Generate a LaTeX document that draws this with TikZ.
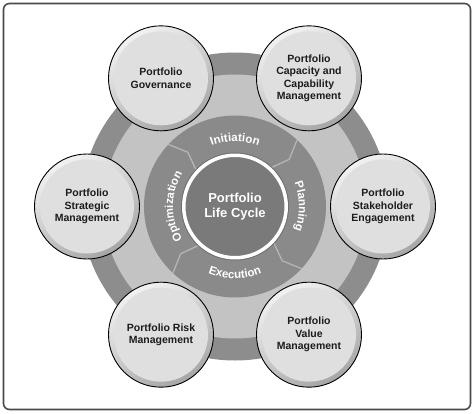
\documentclass[tikz,border=0pt]{standalone}
\usepackage{fontspec}
\setmainfont{Liberation Sans}
\usepackage{xcolor}
\usetikzlibrary{decorations.text}

\definecolor{framegray}{HTML}{4A4A4A}
\definecolor{bandgray}{HTML}{8D8D8D}
\definecolor{lightband}{HTML}{C3C3C3}
\definecolor{ringgray}{HTML}{8A8A8A}
\definecolor{divgray}{HTML}{B5B5B5}
\definecolor{coregray}{HTML}{7A7A7A}
\definecolor{rimlight}{HTML}{F2F2F2}
\definecolor{rimdark}{HTML}{A6A6A6}
\definecolor{faceflat}{HTML}{DFDFDF}
\definecolor{textgray}{HTML}{1C1C1C}

\newcommand\phasefont{\fontsize{11.5}{13}\selectfont\bfseries}

\begin{document}
\begin{tikzpicture}[
  x=1pt, y=1pt,
  area/.style={circle, draw=black, line width=0.9pt, minimum size=105pt,
               inner sep=0pt, align=center, text=textgray,
               font=\fontsize{10.5}{12.5}\selectfont\bfseries,
               top color=rimlight, bottom color=rimdark, shading angle=30,
               path picture={\fill[faceflat] (path picture bounding box.center) circle (47pt);}},
  core/.style={circle, fill=coregray, draw=white, line width=3.5pt,
               minimum size=102.5pt, inner sep=0pt, outer sep=0pt, align=center,
               text=white, font=\fontsize{13}{15}\selectfont\bfseries},
  phase/.style={decorate, decoration={text along path, text align=center,
               text color=white}},
  divider/.style={draw=divgray, line width=1.3pt, line join=round}
]
  \useasboundingbox (-235,-206.5) rectangle (239,206.5);
  \draw[framegray, line width=1.6pt, rounded corners=6pt]
    (-231.5,-203) rectangle (235.5,203);

  % rings
  \fill[bandgray]  (0,0) circle (154);
  \fill[lightband] (0,0) circle (132);
  \fill[ringgray]  (0,0) circle (91);
  \foreach \a in {45,135,225,315}
    \draw[divider] (\a+2:53) -- (\a-4:72) -- (\a+2:91);

  \fill[framegray!80] (0,0) circle (54);
  \node[core] (cycle) at (0,0) {Portfolio\\Life Cycle};

  \path[phase, decoration={text={|\phasefont|Initiation}}]
    (125:65) arc[start angle=125, end angle=55, radius=65];
  \path[phase, decoration={text={|\phasefont|Planning}}]
    (35:64) arc[start angle=35, end angle=-35, radius=64];
  \path[phase, decoration={text={|\phasefont|Execution}}]
    (235:72) arc[start angle=235, end angle=305, radius=72];
  \path[phase, decoration={text={|\phasefont|Optimization}}]
    (215:62) arc[start angle=215, end angle=145, radius=62];

  % surrounding areas
  \node[area] (governance)  at (120:148) {Portfolio\\Governance};
  \node[area] (capacity)    at (60:148)  {Portfolio\\Capacity and\\Capability\\Management};
  \node[area] (stakeholder) at (0:148)   {Portfolio\\Stakeholder\\Engagement};
  \node[area] (value)       at (300:148) {Portfolio\\Value\\Management};
  \node[area] (risk)        at (240:148) {Portfolio Risk\\Management};
  \node[area] (strategic)   at (180:148) {Portfolio\\Strategic\\Management};
\end{tikzpicture}
\end{document}
